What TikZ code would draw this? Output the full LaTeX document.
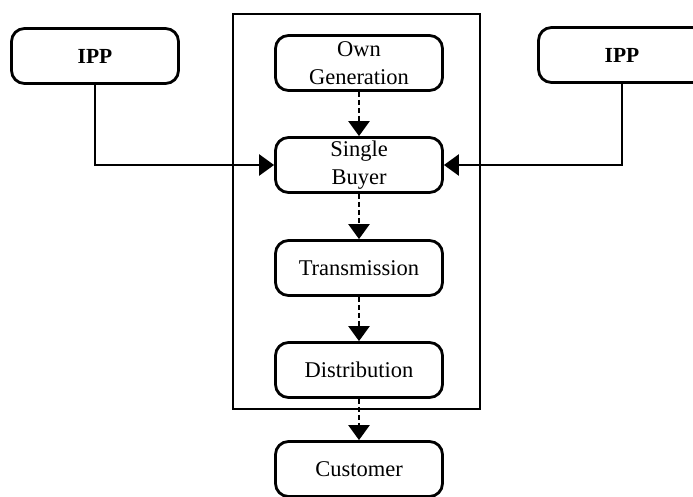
\documentclass[tikz,border=0pt]{standalone}
\usepackage{fontspec}
\setmainfont{Liberation Serif}
\usetikzlibrary{arrows.meta}
\begin{document}
\begin{tikzpicture}[x=1pt,y=-1pt,
  stage/.style={draw, line width=2.8pt, rounded corners=13pt,
    minimum width=167pt, minimum height=55pt, inner sep=0pt,
    align=center, font=\fontsize{22.5}{28}\selectfont},
  source/.style={stage, font=\fontsize{21.5}{24}\selectfont\bfseries},
  feed/.style={line width=2.5pt, -{Triangle[width=21pt,length=15pt]}},
  flow/.style={line width=2.5pt, dash pattern=on 5pt off 3pt,
    -{Triangle[width=21pt,length=15pt]}}]
\useasboundingbox (0,0) rectangle (693,496);

% utility boundary
\node[draw, line width=2.8pt, minimum width=247pt, minimum height=395pt,
  inner sep=0pt] (utility) at (356.5,211.5) {};

% supply chain stages
\node[stage] (own)   at (359,63)  {Own\\Generation};
\node[stage] (buyer) at (359,165) {Single\\Buyer};
\node[stage] (trans) at (359,268) {Transmission};
\node[stage] (dist)  at (359,370) {Distribution};
\node[stage] (cust)  at (359,469) {Customer};

% independent power producers
\node[source] (ippL) at (95,56)  {IPP};
\node[source] (ippR) at (622,55) {IPP};

% connectors
\draw[feed] (ippL.south) |- (buyer.west);
\draw[feed] (ippR.south) |- (buyer.east);
\draw[flow] (own)   -- (buyer);
\draw[flow] (buyer) -- (trans);
\draw[flow] (trans) -- (dist);
\draw[flow] (dist)  -- (cust);
\end{tikzpicture}
\end{document}
